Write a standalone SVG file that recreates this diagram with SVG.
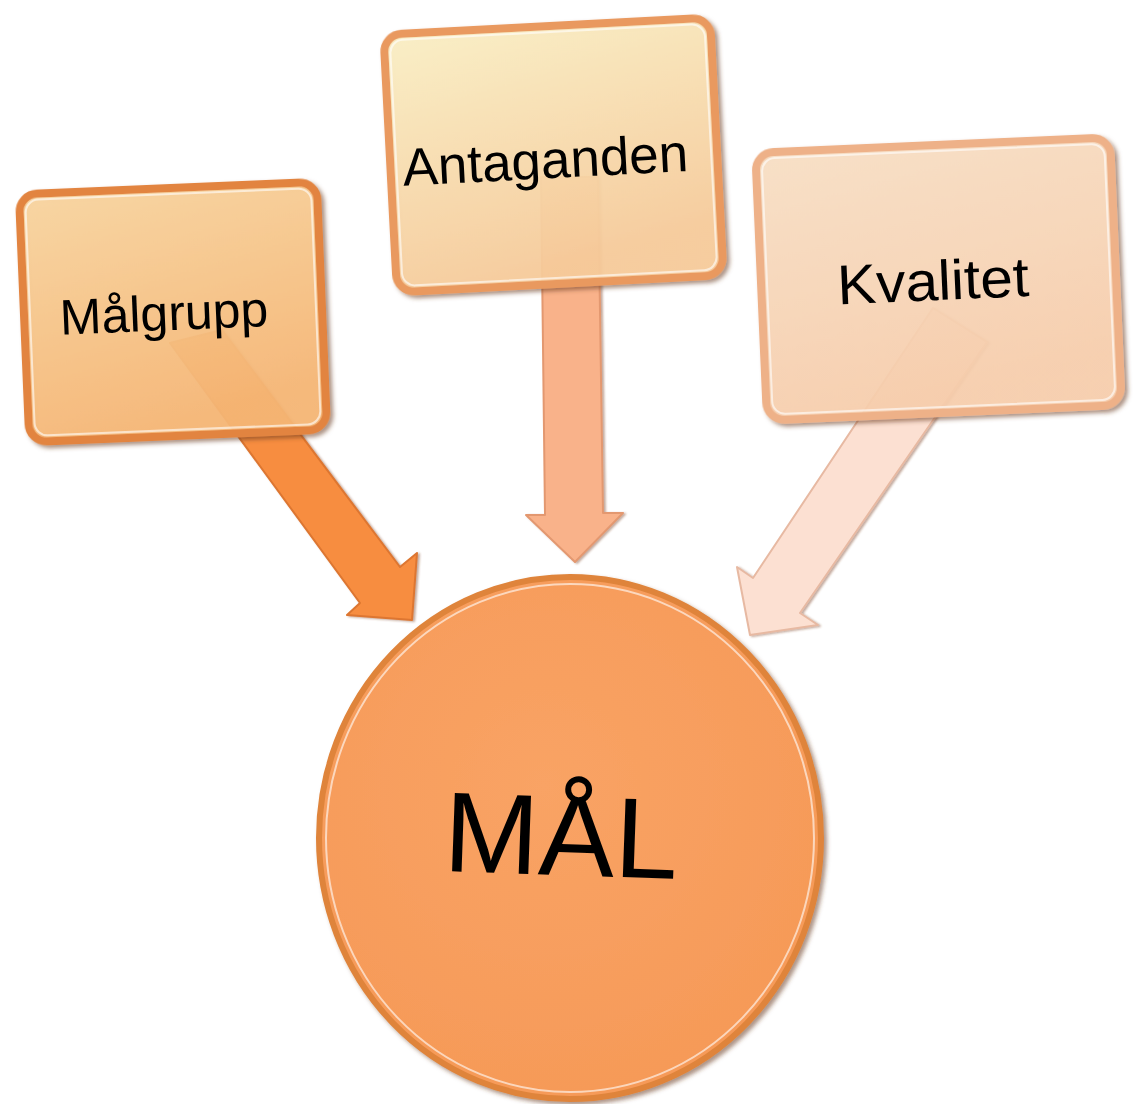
<svg xmlns="http://www.w3.org/2000/svg" width="1133" height="1104" viewBox="0 0 1133 1104">
<defs>
<style>
.lbl{font-family:"Liberation Sans",Arial,sans-serif;fill:#000;text-anchor:middle}
.hl{fill:none;stroke:#fff;stroke-opacity:0.6;stroke-width:2}
</style>
<filter id="sh" x="-10%" y="-10%" width="125%" height="125%">
<feDropShadow dx="3" dy="3" stdDeviation="2" flood-color="#6b3a1a" flood-opacity="0.55"/>
</filter>
<filter id="ash" x="-10%" y="-10%" width="125%" height="125%">
<feDropShadow dx="2" dy="1" stdDeviation="1.2" flood-color="#7a4020" flood-opacity="0.45"/>
</filter>
<linearGradient id="g1" x1="0" y1="0" x2="0.3" y2="1">
<stop offset="0" stop-color="#FCD8A2"/><stop offset="1" stop-color="#F9B977"/>
</linearGradient>
<linearGradient id="g2" x1="0" y1="0" x2="0.3" y2="1">
<stop offset="0" stop-color="#FEF3C8"/><stop offset="1" stop-color="#FACE9D"/>
</linearGradient>
<linearGradient id="g3" x1="0" y1="0" x2="0.3" y2="1">
<stop offset="0" stop-color="#FDE4C9"/><stop offset="1" stop-color="#FCD2B0"/>
</linearGradient>
<radialGradient id="gc" cx="0.45" cy="0.4" r="0.6">
<stop offset="0" stop-color="#F9A365"/><stop offset="1" stop-color="#F69A58"/>
</radialGradient>
</defs>

<g id="connectors">
<polygon id="a1" points="170,343 360,603 347,615 412,620 417,553 400,567 222,330" fill="#F78D3F" stroke="#DD7630" stroke-width="2" stroke-linejoin="round" filter="url(#ash)"/>
<polygon id="a2" points="541,177 545,515 526,515 575,562 623,513 603,513 598,177" fill="#F9B28A" stroke="#E39870" stroke-width="2" stroke-linejoin="round" filter="url(#ash)"/>
<polygon id="a3" points="933,308 753,578 737,567 750,635 818,625 800,613 987,342" fill="#FCE0D2" stroke="#E7B9A2" stroke-width="2" stroke-linejoin="round" filter="url(#ash)"/>
</g>

<g id="node-malgrupp" transform="rotate(-2.4 173 312)">
<rect x="24" y="188" width="298" height="248" rx="18" fill="url(#g1)" fill-opacity="0.9" stroke="#E2843F" stroke-width="8" filter="url(#sh)"/>
<rect x="30" y="194" width="286" height="236" rx="13" class="hl"/>
<text class="lbl" x="164" y="330" font-size="50">Målgrupp</text>
</g>

<g id="node-antaganden" transform="rotate(-3 553 155)">
<rect x="390" y="26" width="327" height="258" rx="18" fill="url(#g2)" fill-opacity="0.9" stroke="#E9995F" stroke-width="8" filter="url(#sh)"/>
<rect x="396" y="32" width="315" height="246" rx="13" class="hl"/>
<text class="lbl" x="545" y="178" font-size="53">Antaganden</text>
</g>

<g id="node-kvalitet" transform="rotate(-2.5 938 279)">
<rect x="761" y="145" width="355" height="268" rx="18" fill="url(#g3)" fill-opacity="0.88" stroke="#EEB188" stroke-width="8" filter="url(#sh)"/>
<rect x="767" y="151" width="343" height="256" rx="13" class="hl"/>
<text class="lbl" x="933" y="300" font-size="56" textLength="192" lengthAdjust="spacingAndGlyphs">Kvalitet</text>
</g>

<g id="node-mal">
<ellipse cx="570" cy="838" rx="251" ry="261" fill="url(#gc)" stroke="#DF843B" stroke-width="6" filter="url(#sh)"/>
<ellipse cx="570" cy="838" rx="244" ry="254" class="hl"/>
<text class="lbl" x="561" y="875" font-size="114" transform="rotate(2 561 840)">MÅL</text>
</g>
</svg>
